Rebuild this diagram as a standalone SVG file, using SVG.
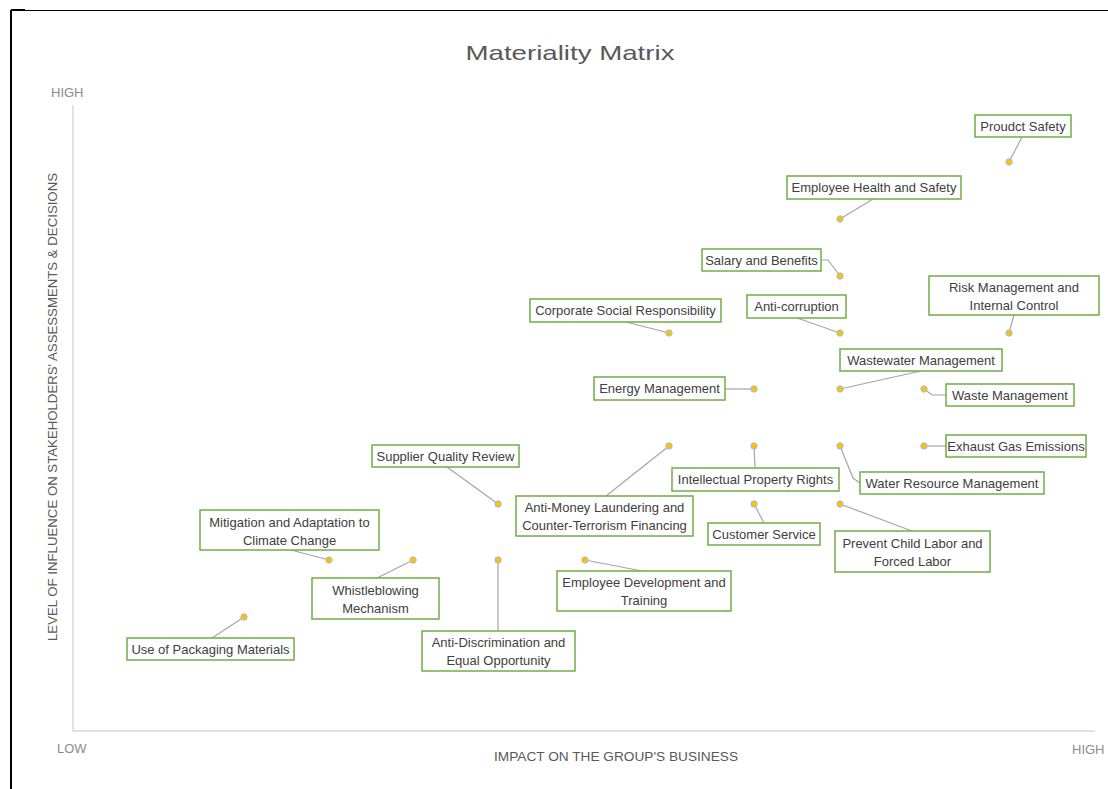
<svg xmlns="http://www.w3.org/2000/svg" width="1108" height="789" viewBox="0 0 1108 789">
<style>
.frame{stroke:#000;fill:none}
.axis{stroke:#d9d9d9;stroke-width:1.5;fill:none}
.title{font-family:"Liberation Sans",Arial,sans-serif;font-size:21px;fill:#595959;text-anchor:middle}
.tick{font-family:"Liberation Sans",Arial,sans-serif;font-size:13px;fill:#8c8c8c}
.alab{font-family:"Liberation Sans",Arial,sans-serif;font-size:13.5px;fill:#595959;text-anchor:middle}
.box{fill:#fff;stroke:#70ad47;stroke-width:1.5}
.lbl{font-family:"Liberation Sans",Arial,sans-serif;font-size:13px;fill:#404040;text-anchor:middle}
.dot{fill:#ffc000;stroke:#9dc3e6;stroke-width:1}
.lead{stroke:#a6a6a6;stroke-width:1.2;fill:none}
</style>
<rect width="1108" height="789" fill="#fff"/>
<g id="frame">
<line class="frame" x1="11" y1="10.5" x2="1108" y2="10.5" stroke-width="1.2"/>
<line class="frame" x1="11" y1="10" x2="25" y2="10" stroke-width="2"/>
<line class="frame" x1="11" y1="10" x2="11" y2="789" stroke-width="2"/>
</g>
<g id="axes">
<polyline class="axis" points="73,105 73,731 1095,731"/>
<text class="title" x="570" y="60" textLength="209" lengthAdjust="spacingAndGlyphs">Materiality Matrix</text>
<text class="tick" x="51" y="97">HIGH</text>
<text class="tick" x="57" y="753">LOW</text>
<text class="tick" x="1072" y="754">HIGH</text>
<text class="alab" x="616" y="761" textLength="244" lengthAdjust="spacingAndGlyphs">IMPACT ON THE GROUP'S BUSINESS</text>
<text class="alab" transform="translate(57,407) rotate(-90)" x="0" y="0" textLength="468" lengthAdjust="spacingAndGlyphs">LEVEL OF INFLUENCE ON STAKEHOLDERS' ASSESSMENTS &amp; DECISIONS</text>
</g>
<g id="connectors">
<polyline class="lead" points="1022,137 1009,162"/>
<polyline class="lead" points="873,199 840,219"/>
<polyline class="lead" points="821,260 828,260 840,276"/>
<polyline class="lead" points="797,318 840,333"/>
<polyline class="lead" points="1014,315 1009,333"/>
<polyline class="lead" points="626,322 669,333"/>
<polyline class="lead" points="921,371 840,389"/>
<polyline class="lead" points="725,389 754,389"/>
<polyline class="lead" points="924,389 932,395 946,395"/>
<polyline class="lead" points="924,446 946,446"/>
<polyline class="lead" points="754,446 755,468"/>
<polyline class="lead" points="840,446 853,478 860,483"/>
<polyline class="lead" points="447,467 498,504"/>
<polyline class="lead" points="606,496 669,446"/>
<polyline class="lead" points="754,504 764,523"/>
<polyline class="lead" points="840,504 912,531"/>
<polyline class="lead" points="291,550 329,560"/>
<polyline class="lead" points="377,578 413,560"/>
<polyline class="lead" points="498,560 498,631"/>
<polyline class="lead" points="585,560 642,571"/>
<polyline class="lead" points="212,638 244,617"/>
</g>
<g id="n-product-safety"><rect class="box" x="975" y="115" width="96" height="22"/><text class="lbl" x="1023" y="131">Proudct Safety</text><circle class="dot" cx="1009" cy="162" r="3.2"/></g>
<g id="n-employee-health"><rect class="box" x="787" y="176" width="174" height="23"/><text class="lbl" x="874" y="192">Employee Health and Safety</text><circle class="dot" cx="840" cy="219" r="3.2"/></g>
<g id="n-salary"><rect class="box" x="702" y="249" width="119" height="22"/><text class="lbl" x="761.5" y="265">Salary and Benefits</text><circle class="dot" cx="840" cy="276" r="3.2"/></g>
<g id="n-anti-corruption"><rect class="box" x="747" y="295" width="99" height="23"/><text class="lbl" x="796.5" y="311">Anti-corruption</text><circle class="dot" cx="840" cy="333" r="3.2"/></g>
<g id="n-risk"><rect class="box" x="929" y="276" width="170" height="39"/><text class="lbl" x="1014" y="292">Risk Management and</text><text class="lbl" x="1014" y="310">Internal Control</text><circle class="dot" cx="1009" cy="333" r="3.2"/></g>
<g id="n-csr"><rect class="box" x="530" y="299" width="191" height="23"/><text class="lbl" x="625.5" y="315">Corporate Social Responsibility</text><circle class="dot" cx="669" cy="333" r="3.2"/></g>
<g id="n-wastewater"><rect class="box" x="840" y="349" width="162" height="22"/><text class="lbl" x="921" y="365">Wastewater Management</text><circle class="dot" cx="840" cy="389" r="3.2"/></g>
<g id="n-energy"><rect class="box" x="594" y="377" width="131" height="23"/><text class="lbl" x="659.5" y="393">Energy Management</text><circle class="dot" cx="754" cy="389" r="3.2"/></g>
<g id="n-waste"><rect class="box" x="946" y="384" width="128" height="22"/><text class="lbl" x="1010" y="400">Waste Management</text><circle class="dot" cx="924" cy="389" r="3.2"/></g>
<g id="n-exhaust"><rect class="box" x="946" y="435" width="140" height="22"/><text class="lbl" x="1016" y="451">Exhaust Gas Emissions</text><circle class="dot" cx="924" cy="446" r="3.2"/></g>
<g id="n-ip"><rect class="box" x="672" y="468" width="167" height="23"/><text class="lbl" x="755.5" y="484">Intellectual Property Rights</text><circle class="dot" cx="754" cy="446" r="3.2"/></g>
<g id="n-water"><rect class="box" x="860" y="472" width="184" height="22"/><text class="lbl" x="952" y="488">Water Resource Management</text><circle class="dot" cx="840" cy="446" r="3.2"/></g>
<g id="n-supplier"><rect class="box" x="372" y="445" width="147" height="22"/><text class="lbl" x="445.5" y="461">Supplier Quality Review</text><circle class="dot" cx="498" cy="504" r="3.2"/></g>
<g id="n-aml"><rect class="box" x="516" y="496" width="177" height="40"/><text class="lbl" x="604.5" y="512">Anti-Money Laundering and</text><text class="lbl" x="604.5" y="530">Counter-Terrorism Financing</text><circle class="dot" cx="669" cy="446" r="3.2"/></g>
<g id="n-customer"><rect class="box" x="708" y="523" width="112" height="22"/><text class="lbl" x="764" y="539">Customer Service</text><circle class="dot" cx="754" cy="504" r="3.2"/></g>
<g id="n-child-labor"><rect class="box" x="835" y="531" width="155" height="41"/><text class="lbl" x="912.5" y="548">Prevent Child Labor and</text><text class="lbl" x="912.5" y="566">Forced Labor</text><circle class="dot" cx="840" cy="504" r="3.2"/></g>
<g id="n-climate"><rect class="box" x="200" y="510" width="179" height="40"/><text class="lbl" x="289.5" y="527">Mitigation and Adaptation to</text><text class="lbl" x="289.5" y="545">Climate Change</text><circle class="dot" cx="329" cy="560" r="3.2"/></g>
<g id="n-whistle"><rect class="box" x="312" y="578" width="127" height="41"/><text class="lbl" x="375.5" y="595">Whistleblowing</text><text class="lbl" x="375.5" y="613">Mechanism</text><circle class="dot" cx="413" cy="560" r="3.2"/></g>
<g id="n-anti-discrimination"><rect class="box" x="422" y="631" width="153" height="40"/><text class="lbl" x="498.5" y="647">Anti-Discrimination and</text><text class="lbl" x="498.5" y="665">Equal Opportunity</text><circle class="dot" cx="498" cy="560" r="3.2"/></g>
<g id="n-development"><rect class="box" x="557" y="571" width="174" height="40"/><text class="lbl" x="644" y="587">Employee Development and</text><text class="lbl" x="644" y="605">Training</text><circle class="dot" cx="585" cy="560" r="3.2"/></g>
<g id="n-packaging"><rect class="box" x="127" y="638" width="167" height="22"/><text class="lbl" x="210.5" y="654">Use of Packaging Materials</text><circle class="dot" cx="244" cy="617" r="3.2"/></g>
</svg>
